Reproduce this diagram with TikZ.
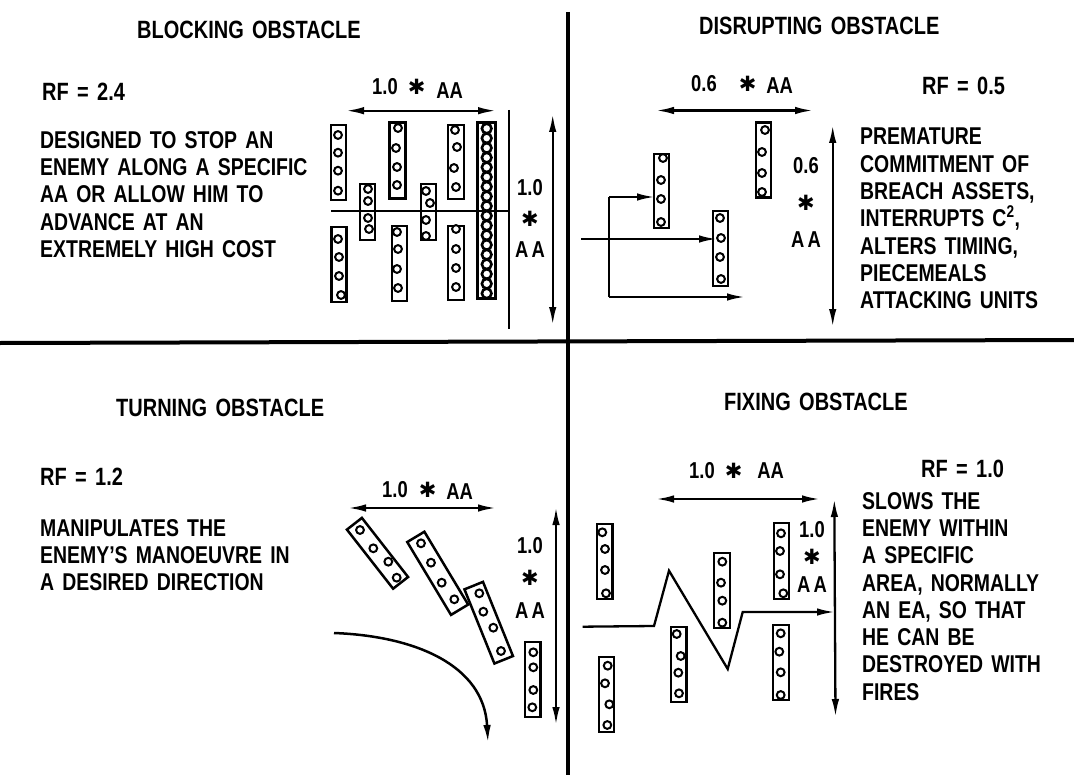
\documentclass[tikz,border=0pt]{standalone}
\usepackage{fontspec}
\setmainfont[FakeStretch=0.8,WordSpace=1.5]{Liberation Sans}
\newfontfamily\starfont{DejaVu Sans}
\usetikzlibrary{arrows.meta}
\newcommand{\astr}{{\starfont\fontsize{21}{20}\selectfont ✱}}
% name, centre, width, height, rotation, four circle centres
\newcommand{\obst}[9]{%
  \node[obrect,minimum width=#3pt,minimum height=#4pt,rotate=#5] (#1) at (#2) {};
  \foreach \p in {(#6),(#7),(#8),(#9)} \draw[hole] \p circle[radius=3.9];
}
\tikzset{
  obrect/.style={draw,line width=2.5pt,inner sep=0,fill=white},
  hole/.style={line width=2pt,fill=white},
  mainline/.style={line width=4pt},
  thinline/.style={line width=2.3pt},
  arr/.style={thinline,-{Latex[length=18pt,width=7.5pt]}},
  arr2/.style={thinline,{Latex[length=18pt,width=7.5pt]}-{Latex[length=18pt,width=7.5pt]}},
  titletxt/.style={inner sep=0,anchor=base west,font=\fontsize{25}{27}\selectfont\bfseries},
  rftxt/.style={inner sep=0,anchor=base west,font=\fontsize{25}{27}\selectfont\bfseries},
  bodytxt/.style={inner sep=0,anchor=north west,align=left,font=\fontsize{24.3}{27.3}\selectfont\bfseries},
  dimh/.style={inner sep=0,anchor=base west,font=\fontsize{23}{24}\selectfont\bfseries},
  dimv/.style={inner sep=0,anchor=north,align=center,font=\fontsize{23}{#1}\selectfont\bfseries},
}
\begin{document}
\begin{tikzpicture}[x=1pt,y=-1pt]
\useasboundingbox (0,0) rectangle (1074,781);
% quadrant lines
\coordinate (hl) at (0,343); \coordinate (hr) at (1074,340);
\coordinate (vt) at (568,12); \coordinate (vb) at (568,775);
\draw[mainline] (hl) -- (hr);
\draw[mainline] (vt) -- (vb);

% ---------- BLOCKING ----------
\node[titletxt] (t1) at (137,39) {BLOCKING OBSTACLE};
\node[rftxt] (rf1) at (42,101) {RF = 2.4};
\node[bodytxt] (b1) at (40,131) {DESIGNED TO STOP AN\\ENEMY ALONG A SPECIFIC\\AA OR ALLOW HIM TO\\ADVANCE AT AN\\EXTREMELY HIGH COST};
\node[dimh] (d1h) at (372,95) {1.0\hspace{10pt}\astr\hspace{11pt}\raisebox{-4pt}{AA}};
\node[dimv=31pt] (d1v) at (530,179) {1.0\\\astr\\A\kern3pt A};
\coordinate (a1l) at (346,110.7); \coordinate (a1r) at (496,110.7);
\draw[arr2] (a1l) -- (a1r);
\coordinate (a1t) at (552.7,114); \coordinate (a1b) at (552.7,325);
\draw[arr2] (a1t) -- (a1b);
\coordinate (s1) at (331,211); \coordinate (s2) at (509.3,211);
\coordinate (w1) at (509.3,110); \coordinate (w2) at (509.3,329);
\draw[thinline] (w1) -- (w2);
\obst{o1}{338.5,162.5}{15}{75}{0}{338,135}{338,152.7}{338,170.7}{338,190.7}
\obst{o2}{397.5,160.5}{16}{76}{0}{398,128}{396,148}{397,167}{397,185}
\obst{o3}{456,162}{16}{74}{0}{455,130}{457,147}{454,168}{456,187}
\obst{o4}{367.5,212}{15}{56}{0}{368,189}{368,201}{368,218}{369,229}
\obst{o5}{428.5,212}{15}{56}{0}{426,191}{430,203}{426,220}{426,236}
\obst{o6}{339,264.5}{15}{75}{0}{338,239}{339,257}{339,276}{341,295}
\obst{o7}{399.5,263.5}{15}{75}{0}{397,232}{398,249}{397,269}{398,288}
\obst{o8}{456,263}{16}{74}{0}{456,229}{456,249}{456,268}{456,287}
\node[obrect,line width=3pt,minimum width=18pt,minimum height=175pt] (o9) at (486,210.5) {};
\foreach \i in {0,...,17} \draw[hole,line width=2.6pt] (486.7,128.5+\i*9.7) circle[radius=4.8];
\draw[thinline] (s1) -- (s2);

% ---------- DISRUPTING ----------
\node[titletxt] (t2) at (699,34.3) {DISRUPTING OBSTACLE};
\node[rftxt] (rf2) at (922,95) {RF = 0.5};
\node[bodytxt] (b2) at (860,128) {PREMATURE\\COMMITMENT OF\\BREACH ASSETS,\\INTERRUPTS C\textsuperscript{2},\\ALTERS TIMING,\\PIECEMEALS\\ATTACKING UNITS};
\node[dimh] (d2h) at (691,92) {0.6\hspace{22pt}\astr\hspace{10pt}\raisebox{-2pt}{AA}};
\node[dimv=37pt] (d2v) at (806,157) {0.6\\\astr\\A\kern3pt A};
\coordinate (a2l) at (656,110.5); \coordinate (a2r) at (813,110.5);
\draw[arr2] (a2l) -- (a2r);
\coordinate (a2t) at (832.7,125); \coordinate (a2b) at (832.7,327);
\draw[arr2] (a2t) -- (a2b);
\obst{p1}{763.5,160}{15}{75}{0}{765,130}{762,152}{762,173}{762,192}
\obst{p2}{661.5,191}{15}{74}{0}{663,158}{661,180}{661,199}{661,222}
\obst{p3}{720.5,248.5}{15}{75}{0}{720,218}{721,238}{720,257}{721,279}
\coordinate (f0) at (581,239);
\coordinate (f2) at (609,197);
\coordinate (f3) at (609,297);
\coordinate (f4) at (745,297);
\coordinate (f5) at (717,239);
\coordinate (f6) at (655,197);
\draw[arr] (f0) -- (f5);
\draw[thinline] (f2) -- (f3);
\draw[arr] (f2) -- (f6);
\draw[arr] (f3) -- (f4);

% ---------- TURNING ----------
\node[titletxt] (t3) at (116,416) {TURNING OBSTACLE};
\node[rftxt] (rf3) at (40,485) {RF = 1.2};
\node[bodytxt] (b3) at (40,519) {MANIPULATES THE\\ENEMY'S MANOEUVRE IN\\A DESIRED DIRECTION};
\node[dimh] (d3h) at (382,497) {1.0\hspace{11pt}\astr\hspace{10pt}\raisebox{-2pt}{AA}};
\node[dimv=32.5pt] (d3v) at (530,537) {1.0\\\astr\\A\kern3pt A};
\coordinate (a3l) at (348,508); \coordinate (a3r) at (496,508);
\draw[arr2] (a3l) -- (a3r);
\coordinate (a3t) at (556,507); \coordinate (a3b) at (556,725);
\draw[arr2] (a3t) -- (a3b);
\obst{q1}{377.5,553.3}{19}{75}{38}{360,530}{373.3,548.3}{388.3,561.7}{396.7,577.7}
\obst{q2}{437.7,573.3}{20}{85}{31}{421,543.3}{431,562.7}{441.7,582.7}{454.3,599.3}
\obst{q3}{488.7,622.7}{20}{80}{22}{479.3,593.3}{483.3,611.7}{493.3,627.7}{501,651}
\obst{q4}{532.8,679.5}{15.7}{75}{0}{533.3,652.3}{533.3,667.3}{533.3,690}{532.3,707.3}
\coordinate (c0) at (334,633); \coordinate (c1) at (488,743);
\draw[arr,line width=2.5pt] (c0) .. controls (415,636) and (484,665) .. (c1);

% ---------- FIXING ----------
\node[titletxt] (t4) at (724,410) {FIXING OBSTACLE};
\node[rftxt] (rf4) at (921,477) {RF = 1.0};
\node[bodytxt] (b4) at (862,492) {SLOWS THE\\ENEMY WITHIN\\A SPECIFIC\\AREA, NORMALLY\\AN EA, SO THAT\\HE CAN BE\\DESTROYED WITH\\FIRES};
\node[dimh] (d4h) at (689,478) {1.0\hspace{10pt}\astr\hspace{15pt}AA};
\node[dimv=27.5pt] (d4v) at (812,521) {1.0\\\astr\\A\kern3pt A};
\coordinate (a4l) at (656,499); \coordinate (a4r) at (820,499);
\draw[arr2] (a4l) -- (a4r);
\coordinate (a4t) at (834.3,499); \coordinate (a4b) at (835.5,717);
\draw[arr2] (a4t) -- (a4b);
\obst{r1}{604.8,561.5}{15.7}{75}{0}{602.3,532.3}{605,549}{605,570}{606,593.3}
\obst{r2}{606.5,694.5}{15}{75}{0}{607.7,665.7}{605,683.3}{609.3,704.3}{607.3,725}
\obst{r3}{678.8,664.5}{15.7}{75}{0}{676.7,634}{680.7,656}{678.3,672.7}{679,693.3}
\obst{r4}{722,590.5}{16}{75}{0}{722.3,561.7}{721,582.7}{722.3,600.7}{722.3,622.7}
\obst{r5}{781.5,561}{15}{76}{0}{781,533.3}{780,551}{780,574.3}{783.3,593.3}
\obst{r6}{781,662.5}{16}{75}{0}{780.7,633.3}{779.3,651.7}{780.7,672.3}{780.7,695}
\coordinate (z0) at (582.7,626.7); \coordinate (z1) at (654,626);
\coordinate (z2) at (669,570.7); \coordinate (z3) at (727.7,669);
\coordinate (z4) at (742.7,612); \coordinate (z5) at (835,612);
\draw[arr] (z0) -- (z1) -- (z2) -- (z3) -- (z4) -- (z5);
\end{tikzpicture}
\end{document}
